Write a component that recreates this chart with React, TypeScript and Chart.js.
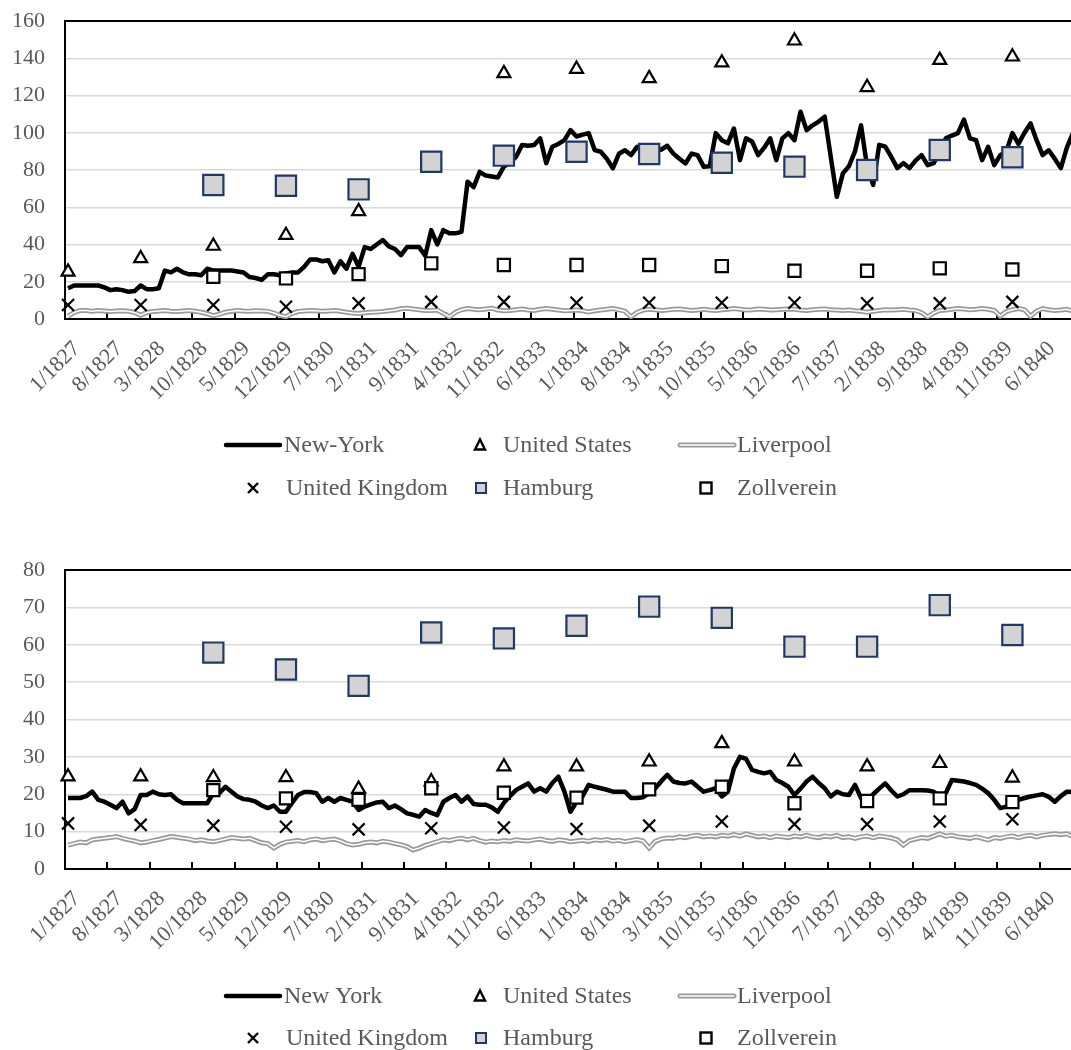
import React, { useEffect, useRef } from 'react';
import Chart from 'chart.js/auto';

// ---------- categories ----------
const years = [1827, 1828, 1829, 1830, 1831, 1832, 1833, 1834, 1835, 1836, 1837, 1838, 1839, 1840];
const months: string[] = [];
for (const yr of years) for (let m = 1; m <= 12; m++) months.push(`${m}/${yr}`);

const tickLabels = ['1/1827', '8/1827', '3/1828', '10/1828', '5/1829', '12/1829', '7/1830', '2/1831', '9/1831', '4/1832', '11/1832', '6/1833', '1/1834', '8/1834', '3/1835', '10/1835', '5/1836', '12/1836', '7/1837', '2/1838', '9/1838', '4/1839', '11/1839', '6/1840'];

// ---------- top panel ----------
const newYorkTop = [
  16.5, 18, 18, 18, 18, 18, 17, 15.5, 16, 15.5, 14.6, 15,
  18, 16, 16, 16.5, 26, 25, 27, 25, 24, 24, 23.5, 27,
  26, 26, 26, 26, 25.5, 25, 22.5, 22, 21, 24, 24, 23.5,
  24.5, 25, 25, 28, 32, 32, 31, 31.5, 25, 31, 27, 35,
  28, 38.6, 37.6, 40, 42.4, 39, 37.6, 34.3, 38.6, 38.6, 38.6, 34,
  47.7, 40, 47.7, 46, 46, 46.8, 73.7, 70.8, 79, 77, 76.5, 76,
  81.8, 84, 87, 93.4, 93, 93.4, 97, 83.7, 92.5, 94, 96, 101.4,
  98, 99, 99.8, 90.7, 89.8, 86, 80.9, 88.7, 90.6, 88, 92.4, 90,
  88, 90, 91, 93, 88.8, 86, 83.5, 88.8, 88, 81.8, 82, 99.8,
  96, 94.3, 102.3, 85.3, 97, 95.3, 88, 92, 97, 85.3, 97, 99.8,
  96, 111.3, 101.4, 104, 106, 108.6, 87, 65.6, 78.2, 82, 90, 104,
  81.8, 72, 93.5, 92.5, 87, 81, 83.7, 81, 85, 88, 82.6, 83.7,
  90, 97, 98.5, 99.8, 107, 97, 96, 85.3, 92.4, 82.6, 88, 90,
  99.8, 94, 100, 105, 96, 88, 90.6, 86, 81, 92, 99.8, 100,
];
const liverpoolTop = [
  1.5, 3.5, 4.5, 4.5, 4.2, 4.5, 4.3, 4, 4.3, 4.4, 4.2, 3.5,
  2, 3.5, 4, 4.3, 4.5, 4.2, 4, 4.3, 4.5, 4.2, 3.6, 2.8,
  1.8, 2.6, 3.6, 4.2, 4.5, 4.3, 4.2, 4.4, 4.3, 4.1, 3.2, 2,
  1.2, 3, 4, 4.3, 4.6, 4.4, 4.1, 4.3, 4.5, 4.2, 3.6, 3.2,
  3, 3.4, 3.6, 3.8, 4, 4.4, 4.8, 5.5, 5.8, 5.4, 5, 4.6,
  4.5, 4.8, 3, 1.2, 3.6, 5, 5.6, 5.2, 5, 5.4, 5.8, 4.8,
  4.4, 4.6, 5, 5.4, 4.8, 4.6, 5.2, 5.6, 5.2, 4.8, 4.4, 4.6,
  4.8, 4.4, 3.8, 4.4, 4.8, 5.2, 5.6, 5, 4.2, 1.2, 3.5, 4.8,
  5.2, 5, 4.6, 4.8, 5.2, 5.4, 5, 4.6, 4.8, 5.2, 4.8, 4.6,
  5, 5.2, 5.6, 5.2, 4.8, 5, 5.4, 5.2, 4.8, 5, 5.2, 5.4,
  5.2, 4.8, 4.6, 5, 5.2, 5.4, 5, 4.8, 4.6, 4.8, 4.4, 4.2,
  3.6, 4.2, 4.6, 5, 4.8, 5, 5.2, 4.8, 4.6, 3.4, 1.2, 3.2,
  4.6, 4.8, 5.2, 5.6, 5.4, 5, 5.2, 5.6, 5.2, 4.6, 1.6, 4,
  5, 5.6, 5, 1.5, 4.2, 5.6, 5, 4.6, 4.8, 5.2, 4.2, 4.4,
];
const unitedStatesTop = [25.3, 32.5, 39.2, 45, 57.8, 84, 131.9, 134.2, 129.2, 137.6, 149.4, 124.4, 139, 140.8];
const unitedKingdomTop = [7.5, 7.5, 7.5, 6.6, 8.4, 9.2, 9.2, 8.7, 8.7, 8.7, 8.7, 8.4, 8.4, 9.2];
const hamburgTop = [null, null, 71.9, 71.5, 69.6, 84.4, 87.7, 89.8, 88.6, 83.9, 81.8, 80, 90.7, 86.8];
const zollvereinTop = [null, null, 22.7, 21.8, 24.1, 29.9, 29, 29, 29, 28.4, 25.9, 25.9, 27.2, 26.6];

// ---------- bottom panel ----------
const newYorkBottom = [
  19, 19, 19, 19.5, 20.7, 18.5, 18, 17.2, 16.3, 18, 14.9, 16,
  19.8, 19.8, 20.7, 20, 19.8, 20, 18.5, 17.6, 17.6, 17.6, 17.6, 17.6,
  20.3, 20.3, 22, 20.7, 19.4, 18.7, 18.5, 18, 17, 16.3, 17, 15.3,
  15.3, 17.7, 19.8, 20.6, 20.6, 20.3, 18, 19, 18, 19, 18.5, 18,
  15.8, 16.7, 17.3, 17.8, 18, 16.3, 17, 16, 14.9, 14.5, 14, 15.8,
  15, 14.4, 18, 19, 19.8, 18, 19.4, 17.4, 17.2, 17.2, 16.5, 15.3,
  17.7, 19.5, 21.1, 22, 22.9, 20.7, 21.6, 20.7, 23, 24.7, 20.7, 15.3,
  18, 19.5, 22.5, 22, 21.6, 21.2, 20.7, 20.7, 20.7, 19, 19, 19.2,
  20.3, 21.6, 23.5, 25.2, 23.4, 23, 22.9, 23.4, 22, 20.7, 21.1, 21.6,
  19.4, 20.7, 26.9, 30, 29.5, 26.5, 26, 25.6, 26, 23.8, 23, 22,
  19.8, 21.5, 23.4, 24.7, 23, 21.6, 19.4, 20.7, 20, 19.8, 22.5, 19,
  18.3, 20, 21.5, 22.9, 21, 19.4, 20, 21.1, 21.1, 21.1, 21, 20.7,
  19.4, 20.3, 23.8, 23.6, 23.4, 23, 22.5, 21.5, 20.3, 18.5, 16.3, 16.7,
  17.5, 18.5, 19, 19.4, 19.7, 20, 19.3, 18, 19.5, 20.7, 20.7, 21,
];
const liverpoolBottom = [
  6.4, 6.8, 7.2, 7, 7.8, 8, 8.2, 8.4, 8.7, 8.2, 7.8, 7.5,
  7, 7.2, 7.6, 7.9, 8.3, 8.7, 8.5, 8.2, 8, 7.6, 7.8, 7.5,
  7.3, 7.6, 8, 8.4, 8.2, 8, 8.2, 7.6, 7, 6.8, 5.6, 6.6,
  7.2, 7.4, 7.6, 7.3, 7.8, 8, 7.6, 7.8, 8, 7.5, 6.8, 6.4,
  6.6, 7, 7.2, 7, 7.4, 7.2, 6.8, 6.5, 6, 5.1, 5.6, 6.3,
  6.8, 7.3, 7.8, 7.6, 8, 8.2, 7.8, 8.2, 7.6, 7.2, 7.5, 7.3,
  7.6, 7.4, 7.8, 7.6, 7.5, 7.8, 8, 7.6, 7.4, 7.8, 7.6, 7.3,
  7.5, 7.7, 7.4, 7.8, 7.6, 7.9, 7.5, 7.7, 7.3, 7.6, 7.9, 7.5,
  5.6, 7.4, 8, 8.3, 8.2, 8.6, 8.4, 8.8, 9, 8.6, 8.8, 8.6,
  9, 8.8, 9.2, 8.8, 9.4, 9, 8.6, 8.8, 8.4, 8.8, 8.6, 8.4,
  8.8, 8.6, 9, 8.6, 8.4, 8.8, 8.6, 9, 8.4, 8.6, 8.2, 8.6,
  8.8, 8.4, 8.8, 8.6, 8.3, 7.8, 6.4, 7.6, 8, 8.4, 8.2, 8.8,
  9.4, 8.8, 9, 8.6, 8.4, 8.2, 8.6, 8.2, 7.8, 8.4, 8.2, 8.6,
  8.8, 8.4, 8.8, 9, 8.6, 9, 9.2, 9.4, 9.2, 9.4, 8.6, 7.6,
];
const unitedStatesBottom = [24.7, 24.7, 24.5, 24.5, 21.4, 23.4, 27.4, 27.4, 28.7, 33.6, 28.7, 27.4, 28.3, 24.4];
const unitedKingdomBottom = [12.2, 11.8, 11.6, 11.3, 10.6, 10.9, 11.1, 10.7, 11.6, 12.7, 12, 12, 12.7, 13.3];
const hamburgBottom = [null, null, 57.9, 53.4, 49, 63.3, 61.7, 65.1, 70.2, 67.2, 59.5, 59.5, 70.6, 62.6];
const zollvereinBottom = [null, null, 21.1, 18.9, 18.5, 21.6, 20.4, 19.1, 21.3, 22, 17.6, 18.2, 18.9, 17.9];

// ---------- layout constants ----------
const FONT = "'Liberation Serif', 'Times New Roman', serif";
const TEXT = '#595959';
const CANVAS_W = 1100;
const PLOT_LEFT = 65;
const PLOT_RIGHT = 1082;

type Panel = {
  nyLabel: string;
  ny: number[];
  liverpool: number[];
  us: (number | null)[];
  uk: (number | null)[];
  hamburg: (number | null)[];
  zoll: (number | null)[];
  yMax: number;
  step: number;
  height: number;
  plotTop: number;
  plotBottom: number;
  legendY1: number;
  legendY2: number;
};

function annual(vals: (number | null)[]) {
  const out: { x: string; y: number }[] = [];
  vals.forEach((v, i) => {
    if (v !== null) out.push({ x: `1/${years[i]}`, y: v });
  });
  return out;
}

function drawMarker(ctx: CanvasRenderingContext2D, kind: string, x: number, y: number) {
  ctx.save();
  ctx.lineJoin = 'miter';
  if (kind === 'line') {
    ctx.strokeStyle = '#000';
    ctx.lineWidth = 4.5;
    ctx.lineCap = 'round';
    ctx.beginPath();
    ctx.moveTo(x - 27, y);
    ctx.lineTo(x + 27, y);
    ctx.stroke();
  } else if (kind === 'double') {
    ctx.lineCap = 'round';
    ctx.strokeStyle = '#9a9a9a';
    ctx.lineWidth = 5;
    ctx.beginPath();
    ctx.moveTo(x - 27, y);
    ctx.lineTo(x + 27, y);
    ctx.stroke();
    ctx.strokeStyle = '#fff';
    ctx.lineWidth = 1.5;
    ctx.beginPath();
    ctx.moveTo(x - 27, y);
    ctx.lineTo(x + 27, y);
    ctx.stroke();
  } else if (kind === 'triangle') {
    ctx.strokeStyle = '#000';
    ctx.lineWidth = 2.4;
    ctx.beginPath();
    ctx.moveTo(x, y - 5.5);
    ctx.lineTo(x + 5, y + 4.5);
    ctx.lineTo(x - 5, y + 4.5);
    ctx.closePath();
    ctx.stroke();
  } else if (kind === 'cross') {
    ctx.strokeStyle = '#000';
    ctx.lineWidth = 2.4;
    ctx.beginPath();
    ctx.moveTo(x - 5, y - 5);
    ctx.lineTo(x + 5, y + 5);
    ctx.moveTo(x + 5, y - 5);
    ctx.lineTo(x - 5, y + 5);
    ctx.stroke();
  } else if (kind === 'hamburg') {
    ctx.fillStyle = '#d3d3d3';
    ctx.fillRect(x - 5, y - 5, 10, 10);
    ctx.strokeStyle = '#1f3864';
    ctx.lineWidth = 2;
    ctx.strokeRect(x - 5, y - 5, 10, 10);
  } else if (kind === 'zoll') {
    ctx.fillStyle = '#fff';
    ctx.fillRect(x - 5.5, y - 5.5, 11, 11);
    ctx.strokeStyle = '#000';
    ctx.lineWidth = 2.4;
    ctx.strokeRect(x - 5.5, y - 5.5, 11, 11);
  }
  ctx.restore();
}

function makeConfig(p: Panel): any {
  const legendItems = [
    { kind: 'line', label: p.nyLabel, mx: 253, tx: 284, row: 1 },
    { kind: 'triangle', label: 'United States', mx: 480, tx: 503, row: 1 },
    { kind: 'double', label: 'Liverpool', mx: 707, tx: 737, row: 1 },
    { kind: 'cross', label: 'United Kingdom', mx: 253, tx: 286, row: 2 },
    { kind: 'hamburg', label: 'Hamburg', mx: 481, tx: 503, row: 2 },
    { kind: 'zoll', label: 'Zollverein', mx: 706, tx: 737, row: 2 },
  ];

  const decorPlugin = {
    id: 'decor',
    beforeDatasetsDraw(chart: any) {
      const { ctx, chartArea } = chart;
      const xs = chart.scales.x;
      const w = xs.getPixelForValue(1) - xs.getPixelForValue(0);
      ctx.save();
      ctx.strokeStyle = '#000';
      ctx.lineWidth = 2;
      ctx.beginPath();
      for (let i = 0; i <= months.length; i += 7) {
        const px = Math.round(xs.getPixelForValue(0) - w / 2 + i * w);
        ctx.moveTo(px, chartArea.bottom);
        ctx.lineTo(px, chartArea.bottom - 7);
      }
      ctx.stroke();
      ctx.restore();
    },
    afterDraw(chart: any) {
      const { ctx, chartArea } = chart;
      ctx.save();
      ctx.strokeStyle = '#000';
      ctx.lineWidth = 2;
      ctx.beginPath();
      ctx.moveTo(chartArea.left, chartArea.top);
      ctx.lineTo(chartArea.right, chartArea.top);
      ctx.lineTo(chartArea.right, chartArea.bottom);
      ctx.stroke();
      ctx.font = `24px ${FONT}`;
      ctx.textBaseline = 'middle';
      ctx.textAlign = 'left';
      for (const it of legendItems) {
        const y = it.row === 1 ? p.legendY1 : p.legendY2;
        drawMarker(ctx, it.kind, it.mx, y);
        ctx.fillStyle = TEXT;
        ctx.fillText(it.label, it.tx, y + 1);
      }
      ctx.restore();
    },
  };

  return {
    type: 'line',
    data: {
      labels: months,
      datasets: [
        { label: p.nyLabel, data: p.ny, borderColor: '#000', borderWidth: 4.5, pointRadius: 0, tension: 0, order: 6, borderJoinStyle: 'round' },
        { label: 'United States', data: annual(p.us), showLine: false, pointStyle: 'triangle', pointRadius: 7.5, pointBorderWidth: 2.2, borderColor: '#000', backgroundColor: '#fff', pointBackgroundColor: '#fff', order: 5 },
        { label: 'Liverpool', data: p.liverpool, borderColor: '#9a9a9a', borderWidth: 5, pointRadius: 0, tension: 0, order: 4 },
        { label: 'Liverpool inner', data: p.liverpool, borderColor: '#ffffff', borderWidth: 1.5, pointRadius: 0, tension: 0, order: 3 },
        { label: 'United Kingdom', data: annual(p.uk), showLine: false, pointStyle: 'crossRot', pointRadius: 8.5, pointBorderWidth: 2.2, borderColor: '#000', order: 2 },
        { label: 'Hamburg', data: annual(p.hamburg), showLine: false, pointStyle: 'rect', pointRadius: 14.3, pointBorderWidth: 2.2, borderColor: '#1f3864', backgroundColor: '#d3d3d3', pointBackgroundColor: '#d3d3d3', order: 1 },
        { label: 'Zollverein', data: annual(p.zoll), showLine: false, pointStyle: 'rect', pointRadius: 8.6, pointBorderWidth: 2.2, borderColor: '#000', backgroundColor: '#fff', pointBackgroundColor: '#fff', order: 0 },
      ],
    },
    options: {
      responsive: false,
      maintainAspectRatio: false,
      animation: false,
      events: [],
      layout: { padding: { left: 0, right: CANVAS_W - PLOT_RIGHT, top: p.plotTop, bottom: 0 } },
      plugins: { legend: { display: false }, tooltip: { enabled: false } },
      scales: {
        x: {
          type: 'category',
          offset: true,
          grid: { display: false, drawTicks: false },
          border: { display: true, color: '#000', width: 2 },
          ticks: {
            autoSkip: false,
            minRotation: 45,
            maxRotation: 45,
            padding: 17,
            labelOffset: 9,
            color: TEXT,
            font: { family: FONT, size: 22 },
            callback: (_v: any, i: number) => (tickLabels.includes(months[i]) ? months[i] : null),
          },
          afterFit: (s: any) => {
            s.height = p.height - p.plotBottom;
          },
        },
        y: {
          min: 0,
          max: p.yMax,
          ticks: { stepSize: p.step, color: TEXT, font: { family: FONT, size: 22 }, padding: 0 },
          grid: {
            color: (c: any) => (c.tick && c.tick.value === 0 ? 'rgba(0,0,0,0)' : '#d9d9d9'),
            lineWidth: 1.5,
            drawTicks: true,
            tickLength: 20,
            tickColor: 'rgba(0,0,0,0)',
          },
          border: { display: true, color: '#000', width: 2 },
          afterFit: (s: any) => {
            s.width = PLOT_LEFT;
          },
        },
      },
    },
    plugins: [decorPlugin],
  };
}

const topPanel: Panel = {
  nyLabel: 'New-York',
  ny: newYorkTop,
  liverpool: liverpoolTop,
  us: unitedStatesTop,
  uk: unitedKingdomTop,
  hamburg: hamburgTop,
  zoll: zollvereinTop,
  yMax: 160,
  step: 20,
  height: 540,
  plotTop: 21,
  plotBottom: 319,
  legendY1: 445,
  legendY2: 488,
};

const bottomPanel: Panel = {
  nyLabel: 'New York',
  ny: newYorkBottom,
  liverpool: liverpoolBottom,
  us: unitedStatesBottom,
  uk: unitedKingdomBottom,
  hamburg: hamburgBottom,
  zoll: zollvereinBottom,
  yMax: 80,
  step: 10,
  height: 510,
  plotTop: 30,
  plotBottom: 329,
  legendY1: 456,
  legendY2: 498,
};

function PanelChart({ panel, top }: { panel: Panel; top: number }) {
  const ref = useRef<HTMLCanvasElement | null>(null);
  useEffect(() => {
    if (!ref.current) return;
    const chart = new Chart(ref.current, makeConfig(panel));
    return () => chart.destroy();
  }, [panel]);
  return (
    <canvas
      ref={ref}
      width={CANVAS_W}
      height={panel.height}
      style={{ position: 'absolute', left: 0, top, width: CANVAS_W, height: panel.height, display: 'block' }}
    />
  );
}

export default function App() {
  return (
    <div style={{ position: 'absolute', left: 0, top: 0, width: 1071, height: 1050, overflow: 'hidden', background: '#fff' }}>
      <PanelChart panel={topPanel} top={0} />
      <PanelChart panel={bottomPanel} top={540} />
    </div>
  );
}
